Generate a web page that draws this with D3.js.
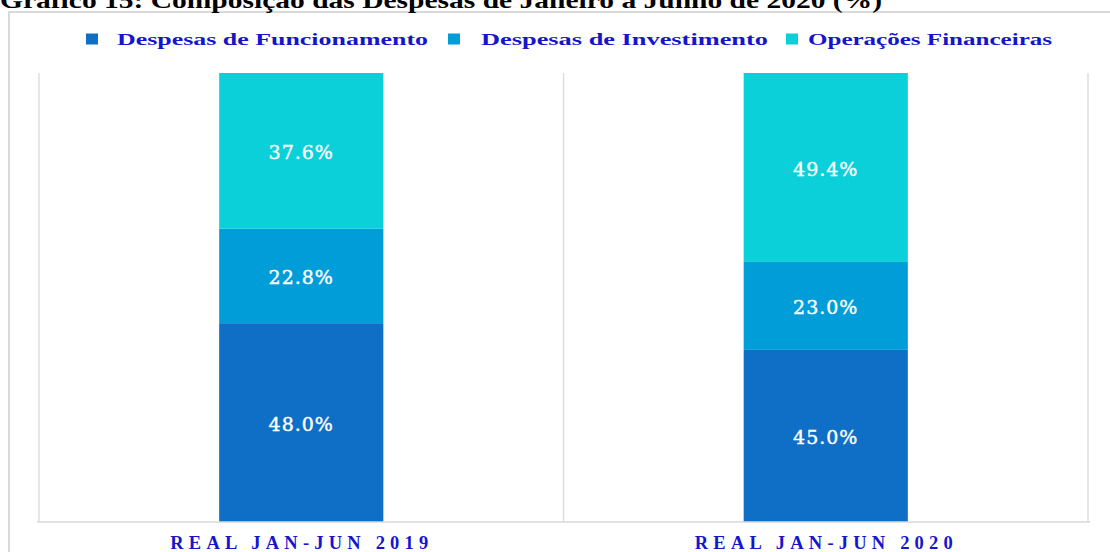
<!DOCTYPE html>
<html>
<head>
<meta charset="utf-8">
<script src="https://cdn.jsdelivr.net/npm/d3@7"></script>
<style>
html,body{margin:0;padding:0;background:#fff;overflow:hidden;}
svg{display:block;}
</style>
</head>
<body>
<svg id="chart" width="1110" height="552"></svg>
<script>
const titleText = "Gráfico 15: Composição das Despesas de Janeiro a Junho de 2020 (%)";
const categories = ["REAL JAN-JUN 2019", "REAL JAN-JUN 2020"];
const seriesNames = ["Despesas de Funcionamento", "Despesas de Investimento", "Operações Financeiras"];
const funcionamento = [48.0, 45.0];
const investimento = [22.8, 23.0];
const operacoes = [37.6, 49.4];
const colors = ["#0F6FC6", "#009DD9", "#0BD0D9"];

const svg = d3.select("#chart");
const W = 1110, H = 552;
const plot = {left: 39, right: 1088, top: 73, bottom: 522};
const textBlue = "#1515CC";

// outer frame
svg.append("rect").attr("x", 9).attr("y", 12).attr("width", W + 20).attr("height", H + 20)
  .attr("fill", "none").attr("stroke", "#d9d9d9").attr("stroke-width", 2);

// title
svg.append("text").attr("x", 0).attr("y", 8)
  .attr("font-family", "Liberation Serif").attr("font-weight", "bold").attr("font-size", 24)
  .attr("fill", "#000").attr("textLength", 882).attr("lengthAdjust", "spacingAndGlyphs")
  .text(titleText);

const rows = categories.map((c, i) => ({
  cat: c,
  [seriesNames[0]]: funcionamento[i],
  [seriesNames[1]]: investimento[i],
  [seriesNames[2]]: operacoes[i]
}));
const stack = d3.stack().keys(seriesNames).offset(d3.stackOffsetExpand);
const stacked = stack(rows);

const x = d3.scaleBand().domain(categories).range([plot.left, plot.right]).padding(0);
const y = d3.scaleLinear().domain([0, 1]).range([plot.bottom, plot.top]);
const barW = x.bandwidth() * 0.313;

// gridlines at category boundaries
const bounds = categories.map(c => x(c)).concat([x(categories[categories.length - 1]) + x.bandwidth()]);
svg.append("g").selectAll("line").data(bounds).join("line")
  .attr("x1", d => d).attr("x2", d => d).attr("y1", plot.top).attr("y2", plot.bottom)
  .attr("stroke", "#d9d9d9").attr("stroke-width", 1.3);

// bars
const g = svg.append("g");
stacked.forEach((s, si) => {
  g.append("g").attr("fill", colors[si]).selectAll("rect").data(s).join("rect")
    .attr("x", d => x(d.data.cat) + x.bandwidth() / 2 - barW / 2)
    .attr("width", barW)
    .attr("y", d => y(d[1]))
    .attr("height", d => y(d[0]) - y(d[1]));
  g.append("g").selectAll("text").data(s).join("text")
    .attr("x", d => x(d.data.cat) + x.bandwidth() / 2)
    .attr("y", d => (y(d[0]) + y(d[1])) / 2 + 1.5)
    .attr("text-anchor", "middle").attr("dominant-baseline", "central")
    .attr("font-family", "DejaVu Serif").attr("font-size", 19).attr("letter-spacing", 1)
    .attr("fill", "#fff").attr("stroke", "#fff").attr("stroke-width", 0.4)
    .text(d => (d.data[seriesNames[si]]).toFixed(1) + "%");
});

// x axis line
svg.append("line").attr("x1", plot.left - 2).attr("x2", plot.right + 2)
  .attr("y1", plot.bottom).attr("y2", plot.bottom)
  .attr("stroke", "#d9d9d9").attr("stroke-width", 1.3);

// category labels via axis
const xAxis = d3.axisBottom(x).tickSize(0).tickPadding(0);
const ax = svg.append("g").attr("transform", `translate(0,${plot.bottom})`).call(xAxis);
ax.select(".domain").remove();
ax.selectAll("text")
  .attr("y", 26.5).attr("dy", 0).attr("dx", -2)
  .attr("font-family", "Liberation Serif").attr("font-weight", "bold").attr("font-size", 18.5)
  .attr("fill", textBlue).attr("textLength", 258).attr("lengthAdjust", "spacing");

// legend
const legendX = [86, 448, 786];
const legendTextX = [117, 481, 808];
const legendLen = [311, 287, 244];
const lg = svg.append("g");
seriesNames.forEach((n, i) => {
  lg.append("rect").attr("x", legendX[i]).attr("y", 33.5).attr("width", 12).attr("height", 11).attr("fill", colors[i]);
  lg.append("text").attr("x", legendTextX[i]).attr("y", 45)
    .attr("font-family", "Liberation Serif").attr("font-weight", "bold").attr("font-size", 17.5)
    .attr("fill", textBlue).attr("textLength", legendLen[i]).attr("lengthAdjust", "spacingAndGlyphs")
    .text(n);
});
</script>
</body>
</html>
